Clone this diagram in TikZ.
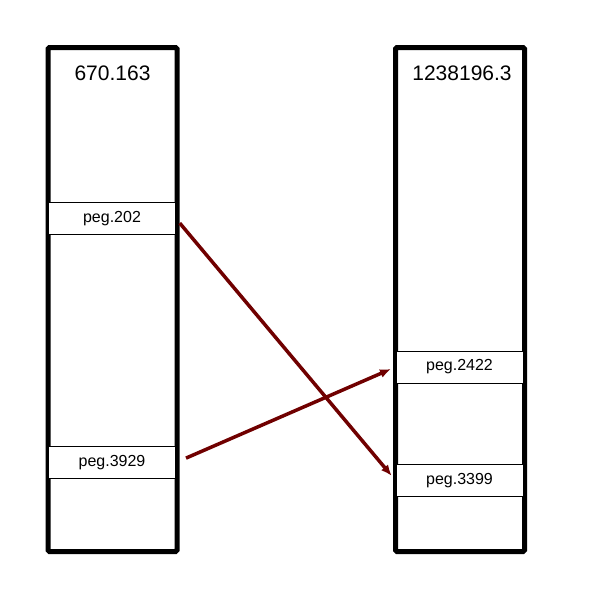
\documentclass[tikz,border=0pt]{standalone}
\usepackage{fontspec}
\setmainfont{Liberation Sans}
\usepackage{xcolor}
\usepackage{tikz}
\usetikzlibrary{arrows.meta}
\definecolor{linkred}{RGB}{112,0,0}

\begin{document}
\begin{tikzpicture}[x=1pt,y=-1pt,
    column/.style={draw, line width=5pt, rounded corners=1.5pt, minimum width=129pt, minimum height=504pt, inner sep=0pt},
    peg/.style={draw, fill=white, line width=0.8pt, minimum width=127pt, minimum height=32pt, inner sep=0pt, font=\fontsize{16}{18}\selectfont},
    title/.style={font=\fontsize{21}{24}\selectfont},
    link/.style={draw=linkred, line width=3.5pt, -{Latex[length=11pt,width=9pt]}}]
    \useasboundingbox (0,0) rectangle (600,600);

    % Columns
    \node[column] (colA) at (112.5,299.5) {};
    \node[column] (colB) at (460,299.5) {};

    % Column titles
    \node[title] (titleA) at (112.5,73) {670.163};
    \node[title] (titleB) at (462,73) {1238196.3};

    % Pegs
    \node[peg] (p202) at (112,218.5) {peg.202};
    \node[peg] (p3929) at (112,462.5) {peg.3929};
    \node[peg] (p2422) at (459.5,367) {peg.2422};
    \node[peg] (p3399) at (459.5,480.5) {peg.3399};

    % Links between pegs
    \draw[link, shorten <=6pt, shorten >=6pt] (p202.east) -- (p3399.west);
    \draw[link, shorten <=11pt, shorten >=5pt] (p3929.east) -- (p2422.west);
\end{tikzpicture}
\end{document}
